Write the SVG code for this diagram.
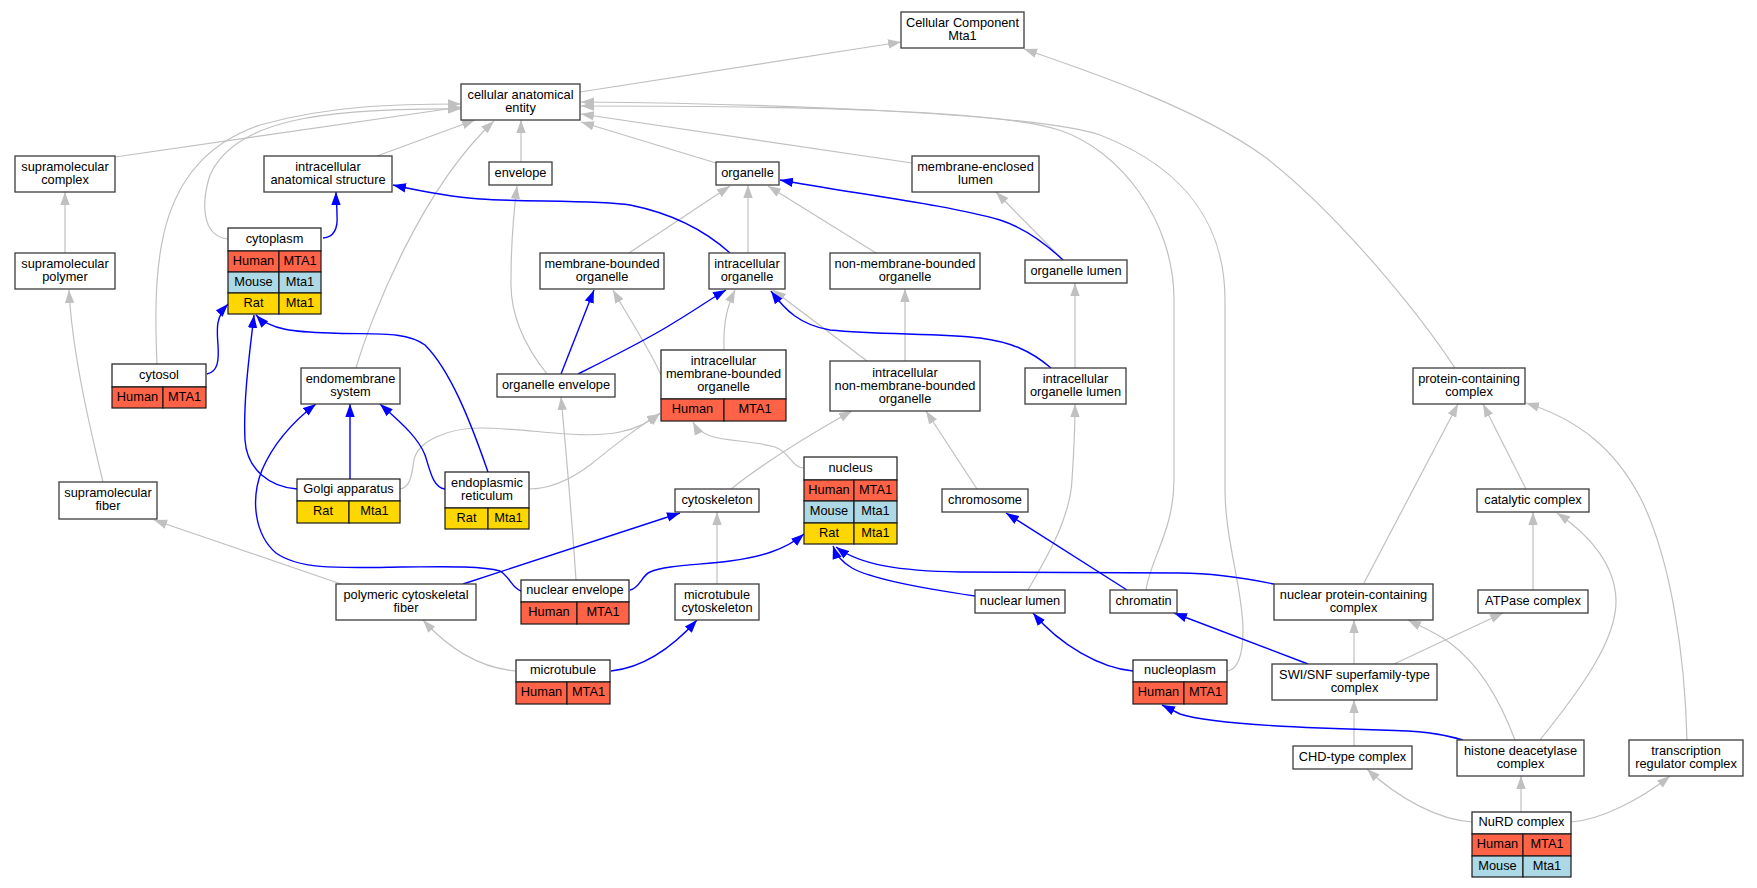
<svg xmlns="http://www.w3.org/2000/svg" width="1757" height="888" viewBox="0 0 1757 888">
<style>
text{font-family:"Liberation Sans",Arial,Helvetica,sans-serif;font-size:12.8px;text-anchor:middle;fill:#000}
.n rect{fill:#fff;stroke:#3c3c3c;stroke-width:1.3}
.t rect{stroke:#1a1a1a;stroke-width:1.2}
.t .w{fill:#fff}
.hu{fill:#ff6347}
.mo{fill:#add8e6}
.ra{fill:#ffd700}
.g{fill:none;stroke:#c0c0c0;stroke-width:1.2;marker-end:url(#ag)}
.b{fill:none;stroke:#0000ff;stroke-width:1.4;marker-end:url(#ab)}
</style>
<defs>
<marker id="ag" markerUnits="userSpaceOnUse" markerWidth="13" markerHeight="10" refX="13" refY="5" orient="auto" viewBox="0 0 13 10"><path d="M0,0.3 L13,5 L0,9.7 z" fill="#c0c0c0"/></marker>
<marker id="ab" markerUnits="userSpaceOnUse" markerWidth="13" markerHeight="10" refX="13" refY="5" orient="auto" viewBox="0 0 13 10"><path d="M0,0.3 L13,5 L0,9.7 z" fill="#0000ff"/></marker>
</defs>
<rect width="1757" height="888" fill="#fff"/>
<g id="edges">
<path class="g" d="M580,92 L901,42"/>
<path class="g" d="M1455,368 C1420,315 1340,215 1265,157 C1200,110 1100,75 1024,49"/>
<path class="g" d="M115,157 L461,107"/>
<path class="g" d="M157,364 C152,250 160,160 260,125 C330,105 400,104 461,104"/>
<path class="g" d="M228,239 C200,236 202,200 210,175 C235,120 320,108 461,109"/>
<path class="g" d="M377,156 L475,120"/>
<path class="g" d="M356,368 C370,320 420,190 494,121"/>
<path class="g" d="M521,162 L521,120"/>
<path class="g" d="M716,163 L581,122"/>
<path class="g" d="M912,163 L581,114"/>
<path class="g" d="M1146,590 C1150,560 1174,530 1174,480 L1174,300 C1174,220 1120,150 1059,130 C998,110 800,106 581,106"/>
<path class="g" d="M1228,671 C1240,668 1243,650 1243,630 C1243,590 1225,540 1225,490 L1225,300 C1225,230 1190,170 1100,135 C1040,115 800,104 581,102"/>
<path class="g" d="M629,253 L730,186"/>
<path class="g" d="M748,253 L748,185"/>
<path class="g" d="M876,253 L768,186"/>
<path class="g" d="M1063,260 L996,192"/>
<path class="g" d="M1075,368 L1075,283"/>
<path class="g" d="M905,361 L905,289"/>
<path class="g" d="M867,361 L773,290"/>
<path class="g" d="M724,350 C723,320 728,305 735,290"/>
<path class="g" d="M661,375 C650,350 630,320 613,290"/>
<path class="g" d="M547,374 C520,340 510,310 511,280 C511,240 514,210 517,186"/>
<path class="g" d="M576,580 C572,520 565,440 561,397"/>
<path class="g" d="M804,468 C792,468 790,452 775,447 C740,437 705,445 693,422"/>
<path class="g" d="M400,489 C412,487 412,470 414,460 C418,440 450,428 480,428 C530,428 580,440 620,432 C640,428 652,420 660,413"/>
<path class="g" d="M529,489 C550,489 570,480 590,465 C615,445 640,425 660,414"/>
<path class="g" d="M731,489 C755,470 800,440 852,411"/>
<path class="g" d="M977,489 L926,411"/>
<path class="g" d="M1028,590 C1045,560 1070,520 1072,480 C1074,450 1075,430 1075,404"/>
<path class="g" d="M717,584 L717,512"/>
<path class="g" d="M516,671 C480,668 450,650 423,620"/>
<path class="g" d="M341,584 L154,520"/>
<path class="g" d="M103,482 C88,420 72,350 69,290"/>
<path class="g" d="M65,253 L65,192"/>
<path class="g" d="M1526,489 L1483,404"/>
<path class="g" d="M1364,583 L1458,404"/>
<path class="g" d="M1687,740 C1685,660 1672,560 1640,497 C1615,450 1580,420 1526,403"/>
<path class="g" d="M1533,590 L1533,512"/>
<path class="g" d="M1540,740 C1580,690 1617,640 1616,600 C1615,565 1590,535 1557,513"/>
<path class="g" d="M1515,740 C1500,700 1480,665 1450,643 C1435,632 1420,626 1408,620"/>
<path class="g" d="M1354,664 L1354,620"/>
<path class="g" d="M1394,664 L1503,613"/>
<path class="g" d="M1354,746 L1354,700"/>
<path class="g" d="M1472,822 C1440,820 1400,800 1367,769"/>
<path class="g" d="M1521,812 L1521,776"/>
<path class="g" d="M1571,822 C1600,820 1640,800 1670,776"/>
<path class="b" d="M323,238 C335,237 338,228 337,215 C337,205 336,198 336,192"/>
<path class="b" d="M730,253 C710,235 680,215 630,205 C600,200 520,202 480,199 C450,197 420,191 393,185"/>
<path class="b" d="M1063,260 C1045,243 1025,228 1000,220 C950,205 850,193 780,180"/>
<path class="b" d="M207,374 C218,372 219,360 218,345 C217,330 215,318 228,304"/>
<path class="b" d="M297,489 C270,487 247,470 245,440 C243,400 250,350 254,315"/>
<path class="b" d="M488,472 C470,420 450,370 425,345 C405,330 370,335 330,333 C295,332 270,330 256,315"/>
<path class="b" d="M350,479 L350,404"/>
<path class="b" d="M445,489 C433,488 430,470 425,455 C418,437 400,422 380,404"/>
<path class="b" d="M521,591 C512,588 510,577 500,571 C480,565 430,567 400,567 C340,568 300,570 276,553 C255,535 250,500 262,470 C275,440 295,420 316,404"/>
<path class="b" d="M463,584 L680,513"/>
<path class="b" d="M630,590 C640,588 642,575 650,572 C665,565 700,565 730,561 C760,557 785,550 804,534"/>
<path class="b" d="M975,596 C920,588 870,578 852,568 C842,562 836,555 833,546"/>
<path class="b" d="M1274,584 C1240,577 1210,573 1180,573 L960,572 C900,571 860,565 836,547"/>
<path class="b" d="M1127,590 L1006,513"/>
<path class="b" d="M1308,664 L1174,613"/>
<path class="b" d="M1133,671 C1100,668 1060,645 1033,613"/>
<path class="b" d="M1463,740 C1440,733 1420,731 1380,730 C1300,728 1210,724 1180,714 L1162,705"/>
<path class="b" d="M611,671 C640,668 670,650 697,620"/>
<path class="b" d="M561,374 L594,290"/>
<path class="b" d="M578,374 C610,358 650,338 675,322 C695,310 712,298 726,290"/>
<path class="b" d="M1051,368 C1030,350 1010,342 980,338 C940,333 880,335 830,330 C800,325 785,310 771,291"/>
</g>
<g id="node-cc" class="n"><rect x="901" y="12" width="123" height="36"/><text x="962.5" y="26.5">Cellular Component</text><text x="962.5" y="39.5">Mta1</text></g>
<g id="node-cae" class="n"><rect x="461" y="84" width="119" height="36"/><text x="520.5" y="98.5">cellular anatomical</text><text x="520.5" y="111.5">entity</text></g>
<g id="node-smc" class="n"><rect x="15" y="156" width="100" height="36"/><text x="65" y="170.5">supramolecular</text><text x="65" y="183.5">complex</text></g>
<g id="node-ias" class="n"><rect x="264" y="156" width="128" height="36"/><text x="328" y="170.5">intracellular</text><text x="328" y="183.5">anatomical structure</text></g>
<g id="node-env" class="n"><rect x="489" y="162" width="63" height="23"/><text x="520.5" y="176.5">envelope</text></g>
<g id="node-org" class="n"><rect x="716" y="162" width="63" height="23"/><text x="747.5" y="176.5">organelle</text></g>
<g id="node-mel" class="n"><rect x="912" y="156" width="127" height="36"/><text x="975.5" y="170.5">membrane-enclosed</text><text x="975.5" y="183.5">lumen</text></g>
<g id="node-smp" class="n"><rect x="15" y="253" width="100" height="36"/><text x="65" y="267.5">supramolecular</text><text x="65" y="280.5">polymer</text></g>
<g id="node-mbo" class="n"><rect x="540" y="253" width="124" height="36"/><text x="602" y="267.5">membrane-bounded</text><text x="602" y="280.5">organelle</text></g>
<g id="node-io" class="n"><rect x="709" y="253" width="76" height="36"/><text x="747" y="267.5">intracellular</text><text x="747" y="280.5">organelle</text></g>
<g id="node-nmbo" class="n"><rect x="830" y="253" width="150" height="36"/><text x="905" y="267.5">non-membrane-bounded</text><text x="905" y="280.5">organelle</text></g>
<g id="node-ol" class="n"><rect x="1025" y="260" width="102" height="23"/><text x="1076" y="274.5">organelle lumen</text></g>
<g id="node-ems" class="n"><rect x="301" y="368" width="99" height="36"/><text x="350.5" y="382.5">endomembrane</text><text x="350.5" y="395.5">system</text></g>
<g id="node-oe" class="n"><rect x="497" y="374" width="118" height="23"/><text x="556" y="388.5">organelle envelope</text></g>
<g id="node-inmbo" class="n"><rect x="830" y="361" width="150" height="50"/><text x="905" y="376.5">intracellular</text><text x="905" y="389.5">non-membrane-bounded</text><text x="905" y="402.5">organelle</text></g>
<g id="node-iol" class="n"><rect x="1025" y="368" width="101" height="36"/><text x="1075.5" y="382.5">intracellular</text><text x="1075.5" y="395.5">organelle lumen</text></g>
<g id="node-pcc" class="n"><rect x="1413" y="368" width="112" height="36"/><text x="1469" y="382.5">protein-containing</text><text x="1469" y="395.5">complex</text></g>
<g id="node-smf" class="n"><rect x="59" y="482" width="98" height="37"/><text x="108" y="496.5">supramolecular</text><text x="108" y="509.5">fiber</text></g>
<g id="node-csk" class="n"><rect x="675" y="489" width="84" height="23"/><text x="717" y="503.5">cytoskeleton</text></g>
<g id="node-chr" class="n"><rect x="942" y="489" width="86" height="23"/><text x="985" y="503.5">chromosome</text></g>
<g id="node-cat" class="n"><rect x="1477" y="489" width="112" height="23"/><text x="1533" y="503.5">catalytic complex</text></g>
<g id="node-pcf" class="n"><rect x="336" y="584" width="140" height="36"/><text x="406" y="598.5">polymeric cytoskeletal</text><text x="406" y="611.5">fiber</text></g>
<g id="node-mtc" class="n"><rect x="675" y="584" width="84" height="36"/><text x="717" y="598.5">microtubule</text><text x="717" y="611.5">cytoskeleton</text></g>
<g id="node-nl" class="n"><rect x="975" y="590" width="90" height="23"/><text x="1020" y="604.5">nuclear lumen</text></g>
<g id="node-chm" class="n"><rect x="1110" y="590" width="67" height="23"/><text x="1143.5" y="604.5">chromatin</text></g>
<g id="node-npcc" class="n"><rect x="1274" y="584" width="159" height="36"/><text x="1353.5" y="598.5">nuclear protein-containing</text><text x="1353.5" y="611.5">complex</text></g>
<g id="node-atp" class="n"><rect x="1478" y="590" width="110" height="23"/><text x="1533" y="604.5">ATPase complex</text></g>
<g id="node-swi" class="n"><rect x="1272" y="664" width="165" height="36"/><text x="1354.5" y="678.5">SWI/SNF superfamily-type</text><text x="1354.5" y="691.5">complex</text></g>
<g id="node-chd" class="n"><rect x="1293" y="746" width="119" height="23"/><text x="1352.5" y="760.5">CHD-type complex</text></g>
<g id="node-hdac" class="n"><rect x="1457" y="740" width="127" height="36"/><text x="1520.5" y="754.5">histone deacetylase</text><text x="1520.5" y="767.5">complex</text></g>
<g id="node-trc" class="n"><rect x="1629" y="740" width="114" height="36"/><text x="1686" y="754.5">transcription</text><text x="1686" y="767.5">regulator complex</text></g>
<g id="node-cytoplasm" class="t">
<rect class="w" x="228" y="228" width="93" height="23"/><text x="274.5" y="242.5">cytoplasm</text>
<rect class="hu" x="228" y="251" width="51" height="21"/><rect class="hu" x="279" y="251" width="42" height="21"/><text x="253.5" y="264.5">Human</text><text x="300" y="264.5">MTA1</text>
<rect class="mo" x="228" y="272" width="51" height="21"/><rect class="mo" x="279" y="272" width="42" height="21"/><text x="253.5" y="285.5">Mouse</text><text x="300" y="285.5">Mta1</text>
<rect class="ra" x="228" y="293" width="51" height="21"/><rect class="ra" x="279" y="293" width="42" height="21"/><text x="253.5" y="306.5">Rat</text><text x="300" y="306.5">Mta1</text>
</g>
<g id="node-cytosol" class="t">
<rect class="w" x="112" y="364" width="94" height="23"/><text x="159" y="378.5">cytosol</text>
<rect class="hu" x="112" y="387" width="51" height="21"/><rect class="hu" x="163" y="387" width="43" height="21"/><text x="137.5" y="400.5">Human</text><text x="184.5" y="400.5">MTA1</text>
</g>
<g id="node-golgi" class="t">
<rect class="w" x="297" y="479" width="103" height="22"/><text x="348.5" y="493">Golgi apparatus</text>
<rect class="ra" x="297" y="501" width="52" height="22"/><rect class="ra" x="349" y="501" width="51" height="22"/><text x="323" y="515">Rat</text><text x="374.5" y="515">Mta1</text>
</g>
<g id="node-er" class="t">
<rect class="w" x="445" y="472" width="84" height="36"/><text x="487" y="486.5">endoplasmic</text><text x="487" y="499.5">reticulum</text>
<rect class="ra" x="445" y="508" width="43" height="21"/><rect class="ra" x="488" y="508" width="41" height="21"/><text x="466.5" y="521.5">Rat</text><text x="508.5" y="521.5">Mta1</text>
</g>
<g id="node-imbo" class="t">
<rect class="w" x="661" y="350" width="125" height="49"/><text x="723.5" y="364.5">intracellular</text><text x="723.5" y="377.5">membrane-bounded</text><text x="723.5" y="390.5">organelle</text>
<rect class="hu" x="661" y="399" width="63" height="22"/><rect class="hu" x="724" y="399" width="62" height="22"/><text x="692.5" y="413">Human</text><text x="755" y="413">MTA1</text>
</g>
<g id="node-nucleus" class="t">
<rect class="w" x="804" y="457" width="93" height="23"/><text x="850.5" y="471.5">nucleus</text>
<rect class="hu" x="804" y="480" width="50" height="21"/><rect class="hu" x="854" y="480" width="43" height="21"/><text x="829" y="493.5">Human</text><text x="875.5" y="493.5">MTA1</text>
<rect class="mo" x="804" y="501" width="50" height="22"/><rect class="mo" x="854" y="501" width="43" height="22"/><text x="829" y="515">Mouse</text><text x="875.5" y="515">Mta1</text>
<rect class="ra" x="804" y="523" width="50" height="21"/><rect class="ra" x="854" y="523" width="43" height="21"/><text x="829" y="536.5">Rat</text><text x="875.5" y="536.5">Mta1</text>
</g>
<g id="node-nenv" class="t">
<rect class="w" x="521" y="580" width="108" height="22"/><text x="575" y="594">nuclear envelope</text>
<rect class="hu" x="521" y="602" width="56" height="22"/><rect class="hu" x="577" y="602" width="52" height="22"/><text x="549" y="616">Human</text><text x="603" y="616">MTA1</text>
</g>
<g id="node-mt" class="t">
<rect class="w" x="516" y="660" width="94" height="22"/><text x="563" y="674">microtubule</text>
<rect class="hu" x="516" y="682" width="51" height="22"/><rect class="hu" x="567" y="682" width="43" height="22"/><text x="541.5" y="696">Human</text><text x="588.5" y="696">MTA1</text>
</g>
<g id="node-nucleoplasm" class="t">
<rect class="w" x="1133" y="660" width="94" height="22"/><text x="1180" y="674">nucleoplasm</text>
<rect class="hu" x="1133" y="682" width="51" height="22"/><rect class="hu" x="1184" y="682" width="43" height="22"/><text x="1158.5" y="696">Human</text><text x="1205.5" y="696">MTA1</text>
</g>
<g id="node-nurd" class="t">
<rect class="w" x="1472" y="812" width="99" height="22"/><text x="1521.5" y="826">NuRD complex</text>
<rect class="hu" x="1472" y="834" width="51" height="22"/><rect class="hu" x="1523" y="834" width="48" height="22"/><text x="1497.5" y="848">Human</text><text x="1547" y="848">MTA1</text>
<rect class="mo" x="1472" y="856" width="51" height="21"/><rect class="mo" x="1523" y="856" width="48" height="21"/><text x="1497.5" y="869.5">Mouse</text><text x="1547" y="869.5">Mta1</text>
</g>
</svg>
